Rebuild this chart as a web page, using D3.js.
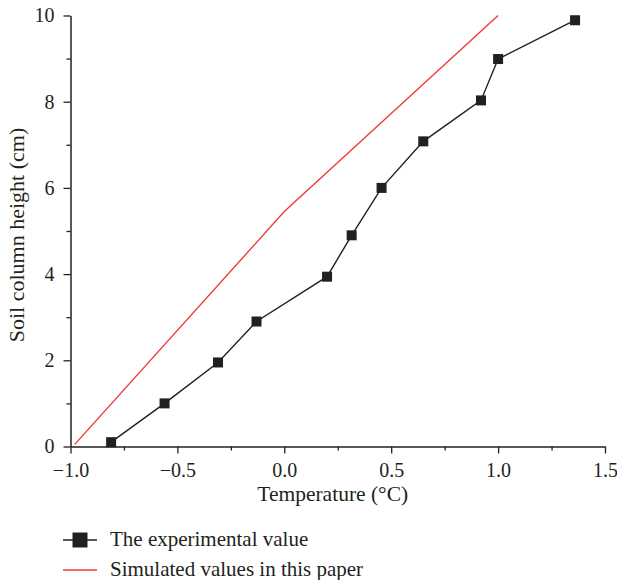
<!DOCTYPE html>
<html>
<head>
<meta charset="utf-8">
<script src="https://cdn.jsdelivr.net/npm/d3@7"></script>
<style>
  body { margin: 0; background: #fff; }
  svg { display: block; font-family: "Liberation Serif", "DejaVu Serif", serif; }
</style>
</head>
<body>
<svg id="chart" width="617" height="580"></svg>
<script>
// Measured soil temperature profile
const expTemp   = [-0.81, -0.56, -0.31, -0.13, 0.20, 0.315, 0.455, 0.65, 0.92, 1.00, 1.36];
const expHeight = [0.1, 1.0, 1.95, 2.9, 3.94, 4.9, 6.0, 7.08, 8.03, 8.99, 9.89];

// Simulated profile
const simTemp   = [-0.98, 0.0, 1.0];
const simHeight = [0.05, 5.45, 10.0];

const xMajor = [-1.0, -0.5, 0.0, 0.5, 1.0, 1.5];
const xMinor = [-0.75, -0.25, 0.25, 0.75, 1.25];
const yMajor = [0, 2, 4, 6, 8, 10];
const yMinor = [1, 3, 5, 7, 9];

const legendLabels = ["The experimental value", "Simulated values in this paper"];

const ink = "#231f20";
const red = "#ee3b3b";

const svg = d3.select("#chart");
const plotLeft = 70.5, plotRight = 605, plotTop = 15.5, plotBottom = 446.5;

const x = d3.scaleLinear().domain([-1, 1.5]).range([plotLeft, plotRight]);
const y = d3.scaleLinear().domain([0, 10]).range([plotBottom, plotTop]);

// Axes
const fmtX = d => d3.format(".1f")(d).replace("-", "\u2212");

const gx = svg.append("g").attr("transform", `translate(0,${plotBottom})`);
gx.call(d3.axisBottom(x).tickValues(xMajor).tickSize(7).tickSizeOuter(0).tickPadding(9).tickFormat(fmtX));
gx.append("g").call(d3.axisBottom(x).tickValues(xMinor).tickSize(4).tickSizeOuter(0).tickFormat(""))
  .select(".domain").remove();

const gy = svg.append("g").attr("transform", `translate(${plotLeft},0)`);
gy.call(d3.axisLeft(y).tickValues(yMajor).tickSize(7).tickSizeOuter(0).tickPadding(9).tickFormat(d3.format("d")));
gy.append("g").call(d3.axisLeft(y).tickValues(yMinor).tickSize(4).tickSizeOuter(0).tickFormat(""))
  .select(".domain").remove();

svg.selectAll(".domain").attr("stroke", ink).attr("stroke-width", 1.5);
svg.selectAll(".tick line").attr("stroke", ink).attr("stroke-width", 1.3);
svg.selectAll(".tick text").attr("fill", ink).attr("font-size", 20)
  .attr("font-family", "'Liberation Serif', serif");

// Axis titles
svg.append("text")
  .attr("x", (plotLeft + plotRight) / 2 - 5).attr("y", 501)
  .attr("text-anchor", "middle").attr("font-size", 21.5).attr("fill", ink)
  .text("Temperature (°C)");

svg.append("text")
  .attr("transform", `translate(24,235) rotate(-90)`)
  .attr("text-anchor", "middle").attr("font-size", 22).attr("fill", ink)
  .text("Soil column height (cm)");

// Simulated line
const simData = simTemp.map((t, i) => [t, simHeight[i]]);
svg.append("path")
  .datum(simData)
  .attr("fill", "none").attr("stroke", red).attr("stroke-width", 1.4)
  .attr("d", d3.line().x(d => x(d[0])).y(d => y(d[1])));

// Experimental line and markers
const expData = expTemp.map((t, i) => [t, expHeight[i]]);
svg.append("path")
  .datum(expData)
  .attr("fill", "none").attr("stroke", ink).attr("stroke-width", 1.4)
  .attr("d", d3.line().x(d => x(d[0])).y(d => y(d[1])));

const sq = 10;
svg.append("g").selectAll("rect")
  .data(expData).join("rect")
  .attr("x", d => x(d[0]) - sq / 2).attr("y", d => y(d[1]) - sq / 2)
  .attr("width", sq).attr("height", sq).attr("fill", ink);

// Legend
const lg = svg.append("g");
const ly1 = 540, ly2 = 570;
lg.append("line").attr("x1", 63).attr("x2", 97).attr("y1", ly1).attr("y2", ly1)
  .attr("stroke", ink).attr("stroke-width", 1.4);
lg.append("rect").attr("x", 80 - 7.5).attr("y", ly1 - 7.5).attr("width", 15).attr("height", 15).attr("fill", ink);
lg.append("text").attr("x", 110).attr("y", ly1 + 6).attr("font-size", 21).attr("fill", ink).text(legendLabels[0]);

lg.append("line").attr("x1", 63).attr("x2", 97).attr("y1", ly2).attr("y2", ly2)
  .attr("stroke", red).attr("stroke-width", 1.4);
lg.append("text").attr("x", 110).attr("y", ly2 + 6).attr("font-size", 21).attr("fill", ink).text(legendLabels[1]);
</script>
</body>
</html>
